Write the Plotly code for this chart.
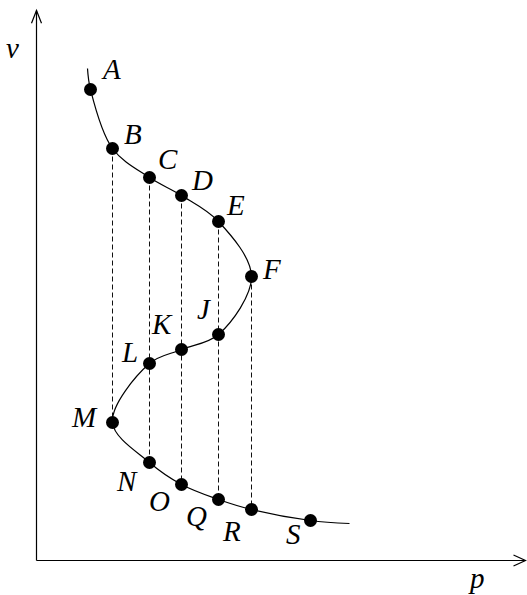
import plotly.graph_objects as go

# Points on the isotherm (p horizontal, v vertical), in arbitrary units
labels = ["A", "B", "C", "D", "E", "F", "J", "K", "L", "M", "N", "O", "Q", "R", "S"]
p_vals = [5.4, 7.6, 11.3, 14.5, 18.2, 21.5, 18.2, 14.5, 11.3, 7.6, 11.3, 14.5, 18.2, 21.5, 27.4]
v_vals = [47.1, 41.2, 38.3, 36.5, 33.9, 28.4, 22.6, 21.1, 19.7, 13.8, 9.8, 7.6, 6.1, 5.1, 4.0]

# curve ends beyond the first and last labelled points
curve_start = (5.1, 49.2)
curve_end = (31.3, 3.7)

# vertical dashed connectors: (upper point, lower point)
dashed_pairs = [("B", "M"), ("C", "N"), ("D", "O"), ("E", "Q"), ("F", "R")]

# label offsets in pixels (dx right, dy up)
label_offsets = {
    "A": (20, 21), "B": (20, 15), "C": (18, 19), "D": (20, 16), "E": (17, 17),
    "F": (20, 8), "J": (-15, 26), "K": (-20, 26), "L": (-20, 12), "M": (-28, 6),
    "N": (-23, -18), "O": (-22, -16), "Q": (-22, -16), "R": (-20, -21), "S": (-17, -13),
}

x_axis_end = 48.9
y_axis_end = 55.0

idx = {k: i for i, k in enumerate(labels)}
fig = go.Figure()

# dashed verticals
for top, bot in dashed_pairs:
    i, j = idx[top], idx[bot]
    fig.add_trace(go.Scatter(
        x=[p_vals[i], p_vals[j]], y=[v_vals[i], v_vals[j]], mode="lines",
        line=dict(color="#111111", width=1, dash="5px,3px"),
        hoverinfo="skip", showlegend=False))

# smooth isotherm
cx = [curve_start[0]] + p_vals + [curve_end[0]]
cy = [curve_start[1]] + v_vals + [curve_end[1]]
fig.add_trace(go.Scatter(
    x=cx, y=cy, mode="lines", line=dict(color="black", width=1.2, shape="spline", smoothing=1.0),
    hoverinfo="skip", showlegend=False))

# state points
fig.add_trace(go.Scatter(
    x=p_vals, y=v_vals, mode="markers", marker=dict(color="black", size=13),
    hoverinfo="skip", showlegend=False))

font = dict(family="Liberation Serif, Times New Roman, serif", size=29, color="black",
            style="italic")
for k, x, y in zip(labels, p_vals, v_vals):
    dx, dy = label_offsets[k]
    fig.add_annotation(x=x, y=y, text=k, showarrow=False,
                       xshift=dx, yshift=dy, font=font)

# axes with open arrowheads
ax_line = dict(color="black", width=1.2)
fig.add_shape(type="line", x0=0, y0=0, x1=x_axis_end, y1=0, line=ax_line)
fig.add_shape(type="line", x0=0, y0=0, x1=0, y1=y_axis_end, line=ax_line)
fig.add_shape(type="path", line=ax_line,
              path=f"M {x_axis_end-1.2},0.55 L {x_axis_end},0 L {x_axis_end-1.2},-0.55")
fig.add_shape(type="path", line=ax_line,
              path=f"M -0.5,{y_axis_end-1.27} L 0,{y_axis_end} L 0.5,{y_axis_end-1.27}")

fig.add_annotation(x=0, y=y_axis_end, text="v", showarrow=False,
                   xshift=-24, yshift=-37, font=font)
fig.add_annotation(x=x_axis_end, y=0, text="p", showarrow=False,
                   xshift=-49, yshift=-17, font=font)

fig.update_layout(
    width=527, height=595, margin=dict(l=0, r=0, t=0, b=0),
    plot_bgcolor="white", paper_bgcolor="white",
    xaxis=dict(range=[-3.65, 49.05], visible=False, fixedrange=True),
    yaxis=dict(range=[-3.45, 56.05], visible=False, fixedrange=True),
)

fig.write_html("out.html")
